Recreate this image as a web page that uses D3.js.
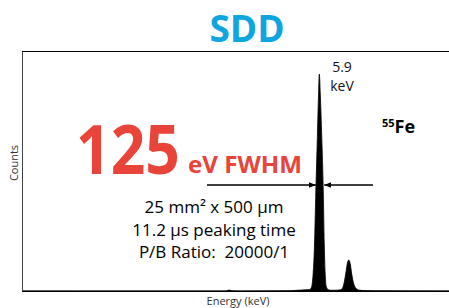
<!DOCTYPE html>
<html>
<head>
<meta charset="utf-8">
<script src="https://cdn.jsdelivr.net/npm/d3@7"></script>
<style>
  body { margin: 0; background: #fff; }
  text { font-family: "Open Sans", sans-serif; white-space: pre; }
</style>
</head>
<body>
<script>
// spectrum: energy (keV) and counts (arbitrary units)
var energy = [-0.15, 1.0, 3.0, 4.0, 4.06, 4.12, 4.3, 5.3, 5.45, 5.55, 5.62, 5.70, 5.74, 5.77, 5.80, 5.83, 5.86, 5.88, 5.90, 5.92,
              5.95, 5.98, 6.00, 6.02, 6.04, 6.08, 6.14, 6.22, 6.30, 6.36, 6.40, 6.44, 6.47, 6.50, 6.53, 6.56, 6.60, 6.65, 6.70, 6.80, 7.0, 8.6];
var counts = [0, 0, 0, 0, 4, 1, 0, 1, 3, 4, 5, 6, 15, 60, 180, 420, 640, 790, 904, 820,
              640, 420, 200, 70, 20, 6, 3, 3, 4, 8, 30, 75, 115, 129, 112, 70, 30, 10, 4, 2, 1, 0];

var infoLines = ["25 mm\u00b2 x 500 \u00b5m", "11.2 \u00b5s peaking time", "P/B Ratio:  20000/1"];
var peakLabel = ["5.9", "keV"];

var w = 449, h = 308;
var margin = { top: 51, left: 22, bottom: 17 };

var xScale = d3.scaleLinear()
    .domain([-0.15, 8.6])
    .range([margin.left, 452]);
var yScale = d3.scaleLinear()
    .domain([0, 1000])
    .range([h - margin.bottom, h - margin.bottom - 240]);

var svg = d3.select("body")
    .append("svg")
    .attr("width", w)
    .attr("height", h);

var spectrum = energy.map(function(e, i) { return [e, counts[i]]; });

var area = d3.area()
    .x(function(d) { return xScale(d[0]); })
    .y0(yScale(0))
    .y1(function(d) { return yScale(d[1]); })
    .curve(d3.curveMonotoneX);

svg.append("path")
    .datum(spectrum)
    .attr("d", area)
    .attr("fill", "#000")
    .attr("stroke", "#000")
    .attr("stroke-width", 0.8);

// frame: left, top and bottom lines only
var y0 = yScale(0), yTop = margin.top;
svg.append("line")
    .attr("x1", margin.left + 0.5).attr("x2", margin.left + 0.5)
    .attr("y1", yTop).attr("y2", y0)
    .attr("stroke", "#444").attr("stroke-width", 1);
svg.append("line")
    .attr("x1", margin.left).attr("x2", w)
    .attr("y1", yTop + 0.5).attr("y2", yTop + 0.5)
    .attr("stroke", "#000").attr("stroke-width", 1.2);
svg.append("line")
    .attr("x1", margin.left).attr("x2", w)
    .attr("y1", y0 + 0.5).attr("y2", y0 + 0.5)
    .attr("stroke", "#000").attr("stroke-width", 1.2);

// title
svg.append("text")
    .attr("x", 247).attr("y", 42)
    .attr("text-anchor", "middle")
    .attr("font-size", 37).attr("font-weight", 700)
    .attr("fill", "#0ea5e0")
    .text("SDD");

// axis labels
svg.append("text")
    .attr("transform", "translate(18,163)rotate(-90)")
    .attr("text-anchor", "middle")
    .attr("font-size", 11)
    .attr("fill", "#333")
    .text("Counts");
svg.append("text")
    .attr("x", 238).attr("y", 305)
    .attr("text-anchor", "middle")
    .attr("font-size", 11)
    .attr("fill", "#333")
    .text("Energy (keV)");

// peak label
svg.selectAll(".peak")
    .data(peakLabel)
    .enter()
    .append("text")
    .attr("class", "peak")
    .attr("x", 342)
    .attr("y", function(d, i) { return 72 + i * 19; })
    .attr("text-anchor", "middle")
    .attr("font-size", 14)
    .attr("fill", "#111")
    .text(function(d) { return d; });

// 55Fe
var fe = svg.append("text")
    .attr("x", 382).attr("y", 133)
    .attr("font-weight", 700)
    .attr("fill", "#000");
fe.append("tspan").attr("font-size", 11).attr("dy", -6).text("55");
fe.append("tspan").attr("font-size", 18).attr("dy", 6).text("Fe");

// resolution
svg.append("text")
    .attr("x", 76).attr("y", 174)
    .attr("font-size", 68).attr("font-weight", 700)
    .attr("fill", "#e8443a")
    .attr("textLength", 104)
    .attr("lengthAdjust", "spacingAndGlyphs")
    .text("125");
svg.append("text")
    .attr("x", 188).attr("y", 173)
    .attr("font-size", 24).attr("font-weight", 700)
    .attr("fill", "#e8443a")
    .attr("textLength", 114)
    .attr("lengthAdjust", "spacingAndGlyphs")
    .text("eV FWHM");

// FWHM arrows
var defs = svg.append("defs");
defs.append("marker")
    .attr("id", "head")
    .attr("viewBox", "0 0 10 10")
    .attr("refX", 10).attr("refY", 5)
    .attr("markerWidth", 7).attr("markerHeight", 7)
    .attr("markerUnits", "userSpaceOnUse")
    .attr("orient", "auto")
    .append("path")
    .attr("d", "M0,1L10,5L0,9Z")
    .attr("fill", "#000");

var arrowY = 185;
svg.append("line")
    .attr("x1", 207).attr("x2", xScale(5.83))
    .attr("y1", arrowY).attr("y2", arrowY)
    .attr("stroke", "#000").attr("stroke-width", 1.5)
    .attr("marker-end", "url(#head)");
svg.append("line")
    .attr("x1", 373).attr("x2", xScale(6.0))
    .attr("y1", arrowY).attr("y2", arrowY)
    .attr("stroke", "#000").attr("stroke-width", 1.5)
    .attr("marker-end", "url(#head)");

// detector info
svg.selectAll(".info")
    .data(infoLines)
    .enter()
    .append("text")
    .attr("class", "info")
    .attr("x", 214)
    .attr("y", function(d, i) { return 213 + i * 22.5; })
    .attr("text-anchor", "middle")
    .attr("font-size", 17)
    .attr("fill", "#000")
    .text(function(d) { return d; });
</script>
</body>
</html>
